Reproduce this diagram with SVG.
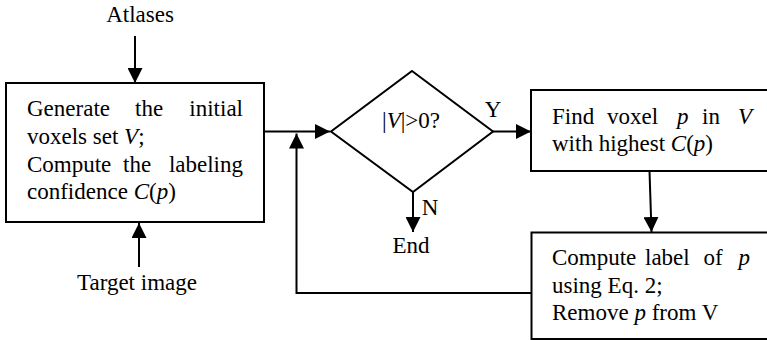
<svg xmlns="http://www.w3.org/2000/svg" width="767" height="340" viewBox="0 0 767 340">
<style>
text{font-family:"Liberation Serif","Times New Roman",serif;font-size:23px;fill:#000}
.i{font-style:italic}
.s{fill:none;stroke:#000;stroke-width:2}
.b{fill:#fff;stroke:#000;stroke-width:2}
</style>
<defs>
<marker id="ah" markerWidth="15" markerHeight="15" viewBox="0 0 15 15" refX="15" refY="7.5" orient="auto" markerUnits="userSpaceOnUse">
<path d="M0,0 L15,7.5 L0,15 Z" fill="#000"/>
</marker>
</defs>
<rect width="767" height="340" fill="#fff"/>
<g id="connectors">
<line class="s" x1="135" y1="36" x2="135" y2="83" marker-end="url(#ah)"/>
<line class="s" x1="139" y1="267" x2="139" y2="223" marker-end="url(#ah)"/>
<line class="s" x1="264" y1="131.5" x2="330" y2="131.5" marker-end="url(#ah)"/>
<line class="s" x1="492" y1="131.5" x2="531" y2="131.5" marker-end="url(#ah)"/>
<line class="s" x1="413" y1="192" x2="413" y2="232" marker-end="url(#ah)"/>
<line class="s" x1="649.5" y1="171" x2="651.5" y2="232" marker-end="url(#ah)"/>
<polyline class="s" points="531,293 296.5,293 296.5,133.5" marker-end="url(#ah)"/>
</g>
<g id="atlases">
<text x="140" y="22" text-anchor="middle">Atlases</text>
</g>
<g id="target">
<text x="137" y="290" text-anchor="middle">Target image</text>
</g>
<g id="init">
<rect class="b" x="6" y="83" width="258" height="139"/>
<text y="116"><tspan x="27">Generate</tspan><tspan x="135">the</tspan><tspan x="243" text-anchor="end">initial</tspan></text>
<text x="27" y="143.5">voxels set <tspan class="i">V</tspan>;</text>
<text y="171.5"><tspan x="27">Compute</tspan><tspan x="123">the</tspan><tspan x="243" text-anchor="end">labeling</tspan></text>
<text x="27" y="198.5">confidence <tspan class="i">C</tspan>(<tspan class="i">p</tspan>)</text>
</g>
<g id="decision">
<polygon class="b" points="412,71 493,131.5 413,192 331,131.5"/>
<text x="411" y="128" text-anchor="middle">|<tspan class="i">V</tspan>|&gt;0?</text>
<text x="493" y="117" text-anchor="middle">Y</text>
<text x="430" y="215" text-anchor="middle">N</text>
<text x="411" y="253" text-anchor="middle">End</text>
</g>
<g id="find">
<rect class="b" x="531" y="90" width="250" height="81"/>
<text y="123.5"><tspan x="552">Find</tspan><tspan x="607">voxel</tspan><tspan class="i" x="677">p</tspan><tspan x="702">in</tspan><tspan class="i" x="752" text-anchor="end">V</tspan></text>
<text x="552" y="151">with highest <tspan class="i">C</tspan>(<tspan class="i">p</tspan>)</text>
</g>
<g id="compute">
<rect class="b" x="531.5" y="232.5" width="250" height="106.5"/>
<text y="265"><tspan x="552">Compute</tspan><tspan x="645">label</tspan><tspan x="703.5">of</tspan><tspan class="i" x="750" text-anchor="end">p</tspan></text>
<text x="552" y="292.5">using Eq. 2;</text>
<text x="552" y="320">Remove <tspan class="i">p</tspan> from V</text>
</g>
</svg>
